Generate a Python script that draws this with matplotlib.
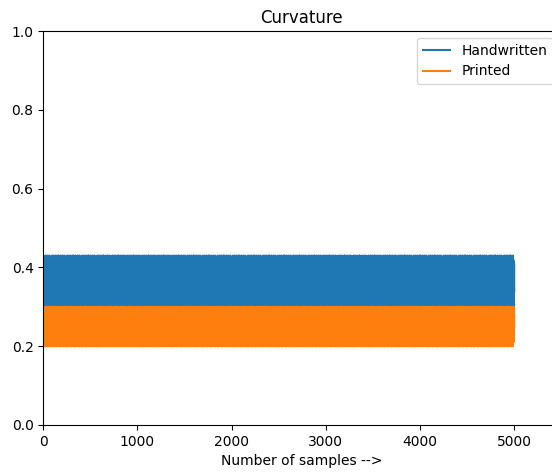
import matplotlib
matplotlib.use("Agg")
import matplotlib.pyplot as plt
import numpy as np

n_samples = 5000

# curvature values (band of noise), repeated over all samples
handwritten_vals = [
    0.35, 0.43, 0.31, 0.38, 0.30, 0.41, 0.33, 0.37, 0.29, 0.40,
    0.32, 0.39, 0.30, 0.425, 0.34, 0.31, 0.40, 0.36, 0.30, 0.38,
    0.41, 0.30, 0.37, 0.33, 0.43, 0.29, 0.39, 0.35, 0.31, 0.42,
    0.33, 0.40, 0.30, 0.36, 0.415, 0.32, 0.38, 0.29, 0.41, 0.34,
    0.30, 0.42, 0.35, 0.31, 0.39, 0.43, 0.33, 0.37, 0.30, 0.40,
    0.36, 0.31, 0.42, 0.29, 0.38, 0.34, 0.41, 0.30, 0.37, 0.33,
    0.40, 0.32, 0.36, 0.43, 0.30, 0.39, 0.31, 0.42, 0.35, 0.29,
    0.34, 0.38, 0.30, 0.395, 0.32, 0.36, 0.29, 0.39, 0.31, 0.37,
    0.30, 0.428, 0.33, 0.39, 0.31, 0.41, 0.36, 0.29, 0.38, 0.35,
    0.42, 0.31, 0.37, 0.30, 0.43, 0.34, 0.40, 0.32, 0.39, 0.30,
    0.33, 0.41, 0.29, 0.38, 0.35, 0.42, 0.30, 0.36, 0.40, 0.31,
    0.39, 0.30, 0.43, 0.34, 0.31, 0.41, 0.37, 0.29, 0.42, 0.35,
    0.32, 0.38, 0.30, 0.41, 0.34, 0.29, 0.39, 0.36, 0.31, 0.40,
    0.37, 0.43, 0.31, 0.35, 0.40, 0.30, 0.42, 0.33, 0.38, 0.29,
    0.41, 0.33, 0.30, 0.425, 0.36, 0.31, 0.39, 0.34, 0.40, 0.30,
    0.35, 0.42, 0.29, 0.38, 0.43, 0.32, 0.36, 0.30, 0.41, 0.33,
]
printed_vals = [
    0.25, 0.30, 0.21, 0.27, 0.20, 0.29, 0.23, 0.26, 0.22, 0.28,
    0.22, 0.27, 0.20, 0.29, 0.24, 0.21, 0.28, 0.25, 0.20, 0.26,
    0.29, 0.21, 0.26, 0.23, 0.30, 0.20, 0.27, 0.24, 0.22, 0.28,
    0.24, 0.28, 0.21, 0.26, 0.30, 0.23, 0.27, 0.22, 0.29, 0.25,
    0.20, 0.29, 0.25, 0.22, 0.27, 0.30, 0.23, 0.26, 0.21, 0.28,
    0.26, 0.21, 0.295, 0.20, 0.27, 0.24, 0.28, 0.22, 0.25, 0.23,
    0.28, 0.22, 0.25, 0.30, 0.20, 0.27, 0.21, 0.29, 0.24, 0.20,
    0.25, 0.28, 0.21, 0.29, 0.23, 0.26, 0.22, 0.30, 0.24, 0.27,
    0.21, 0.30, 0.24, 0.27, 0.20, 0.28, 0.25, 0.22, 0.29, 0.23,
    0.28, 0.20, 0.26, 0.22, 0.29, 0.24, 0.27, 0.21, 0.25, 0.20,
    0.23, 0.29, 0.20, 0.27, 0.25, 0.30, 0.21, 0.26, 0.28, 0.22,
    0.27, 0.21, 0.30, 0.24, 0.20, 0.28, 0.26, 0.22, 0.29, 0.25,
    0.22, 0.27, 0.21, 0.29, 0.24, 0.23, 0.28, 0.25, 0.30, 0.26,
    0.26, 0.30, 0.20, 0.24, 0.28, 0.21, 0.29, 0.23, 0.27, 0.20,
    0.29, 0.23, 0.20, 0.30, 0.25, 0.22, 0.27, 0.24, 0.28, 0.21,
    0.24, 0.295, 0.205, 0.27, 0.26, 0.22, 0.25, 0.21, 0.28, 0.23,
]

x = np.arange(n_samples)
handwritten = np.resize(handwritten_vals, n_samples)
printed = np.resize(printed_vals, n_samples)

fig = plt.figure(figsize=(5.52, 4.72), dpi=100)
ax = fig.add_axes([0.0784, 0.0996, 0.936, 0.8347])
ax.plot(x, handwritten, label="Handwritten")
ax.plot(x, printed, label="Printed")
ax.set_xlim(0, 5485)
ax.set_ylim(0, 1)
ax.set_title("Curvature")
ax.set_xlabel("Number of samples -->")
ax.legend(loc="upper right")
fig.savefig("out.png", dpi=100)
